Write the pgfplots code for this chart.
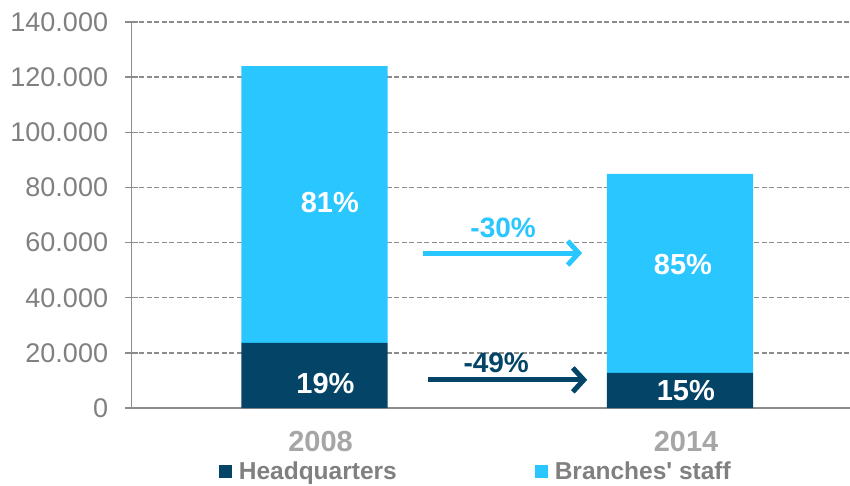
\documentclass[border=0pt]{standalone}
\usepackage{pgfplots}
\pgfplotsset{compat=1.18}
\usepackage{fontspec}
\setmainfont{Liberation Sans}
\newfontfamily\lsans{Liberation Sans}
\usetikzlibrary{arrows.meta}
\definecolor{hq}{RGB}{4,68,102}
\definecolor{br}{RGB}{41,198,255}
\definecolor{tk}{RGB}{128,128,128}
\definecolor{yr}{RGB}{166,166,166}
\definecolor{gr}{RGB}{140,140,140}
\begin{document}
\begin{tikzpicture}
\useasboundingbox (0,0) rectangle (850pt,485pt);
\begin{axis}[
  at={(131.75pt,77pt)}, anchor=south west,
  scale only axis, width=718.25pt, height=386pt,
  xmin=-0.5, xmax=1.465, ymin=0, ymax=140000,
  ybar stacked, bar width=0.4,
  axis x line*=bottom, axis y line*=left,
  axis line style={gr, line width=1.5pt},
  xtick={0,1}, xticklabels={2008,2014},
  x tick style={draw=none},
  xticklabel style={font=\lsans\bfseries\fontsize{29}{29}\selectfont, text=yr, anchor=base, inner sep=0pt, yshift=-37pt, xshift=6pt},
  ytick={0,20000,...,140000},
  scaled y ticks=false,
  y tick style={gr, line width=1.5pt},
  tick align=center, major tick length=13pt,
  yticklabel style={font=\lsans\fontsize{27}{27}\selectfont, text=tk, inner sep=0pt, xshift=-17pt},
  /pgf/number format/.cd, fixed, precision=0, 1000 sep={.}, assume math mode=true,
  /pgfplots/.cd,
  ymajorgrids,
  major grid style={gr, line width=1.3pt, dash pattern=on 5pt off 2.5pt},
  legend columns=2,
  legend style={at={(0.121,-0.165)}, anchor=west, draw=none, fill=none, inner sep=0pt,
    font=\lsans\bfseries\fontsize{24.5}{24.5}\selectfont, text=tk,
    /tikz/every even column/.append style={column sep=136pt}},
  legend image code/.code={\fill[#1] (0pt,-6.5pt) rectangle (13pt,6.5pt); \path (18pt,0pt);},
]
\addplot[fill=hq, draw=none] coordinates {(0,23600) (1,12700)};
\addplot[fill=br, draw=none] coordinates {(0,100400) (1,72200)};
\legend{Headquarters, Branches' staff}
\draw[br, line width=5pt, -{Straight Barb[length=11pt,width=24pt]}] (axis cs:0.297,56200) -- (axis cs:0.732,56200);
\draw[hq, line width=5pt, -{Straight Barb[length=11pt,width=24pt]}] (axis cs:0.311,10200) -- (axis cs:0.746,10200);
\coordinate (a30) at (axis cs:0.516,65300);
\coordinate (a49) at (axis cs:0.497,16300);
\coordinate (p81) at (axis cs:0.042,74400);
\coordinate (p19) at (axis cs:0.03,8700);
\coordinate (p85) at (axis cs:1.008,51900);
\coordinate (p15) at (axis cs:1.016,6200);
\end{axis}
\node[font=\lsans\bfseries\fontsize{28}{28}\selectfont, text=br] at (a30) {-30\%};
\node[font=\lsans\bfseries\fontsize{28}{28}\selectfont, text=hq] at (a49) {-49\%};
\node[font=\lsans\bfseries\fontsize{29}{29}\selectfont, text=white] at (p81) {81\%};
\node[font=\lsans\bfseries\fontsize{29}{29}\selectfont, text=white] at (p19) {19\%};
\node[font=\lsans\bfseries\fontsize{29}{29}\selectfont, text=white] at (p85) {85\%};
\node[font=\lsans\bfseries\fontsize{29}{29}\selectfont, text=white] at (p15) {15\%};
\end{tikzpicture}
\end{document}
